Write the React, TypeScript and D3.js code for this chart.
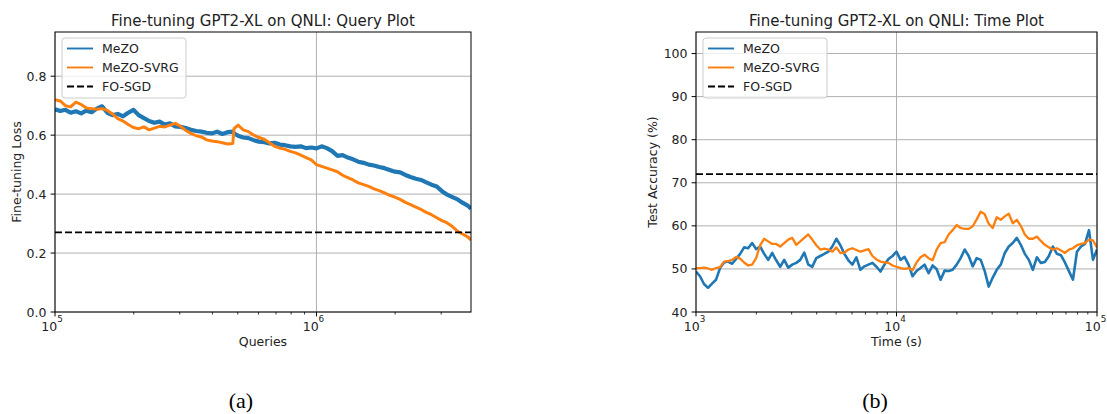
import React from 'react';
import * as d3 from 'd3';

// ---------- Data ----------
const queries = [
  1.000e5, 1.047e5, 1.096e5, 1.148e5, 1.202e5, 1.259e5, 1.318e5, 1.380e5, 1.445e5, 1.514e5,
  1.585e5, 1.660e5, 1.738e5, 1.820e5, 1.905e5, 1.995e5, 2.089e5, 2.188e5, 2.291e5, 2.399e5,
  2.512e5, 2.630e5, 2.754e5, 2.884e5, 3.020e5, 3.162e5, 3.311e5, 3.467e5, 3.631e5, 3.802e5,
  3.981e5, 4.169e5, 4.365e5, 4.571e5, 4.786e5, 4.840e5, 5.012e5, 5.248e5, 5.495e5, 5.754e5,
  6.026e5, 6.310e5, 6.607e5, 6.918e5, 7.244e5, 7.586e5, 7.943e5, 8.318e5, 8.710e5, 9.120e5,
  9.550e5, 1.000e6, 1.047e6, 1.096e6, 1.148e6, 1.202e6, 1.259e6, 1.318e6, 1.380e6, 1.445e6,
  1.514e6, 1.585e6, 1.660e6, 1.738e6, 1.820e6, 1.905e6, 1.995e6, 2.089e6, 2.188e6, 2.291e6,
  2.399e6, 2.512e6, 2.630e6, 2.754e6, 2.884e6, 3.020e6, 3.162e6, 3.311e6, 3.467e6, 3.631e6,
  3.802e6, 3.900e6,
];
const mezoLoss = [
  0.688, 0.682, 0.686, 0.676, 0.681, 0.674, 0.683, 0.678, 0.690, 0.698,
  0.676, 0.668, 0.672, 0.664, 0.676, 0.686, 0.668, 0.658, 0.648, 0.642,
  0.646, 0.636, 0.640, 0.630, 0.628, 0.624, 0.618, 0.614, 0.612, 0.608,
  0.606, 0.612, 0.604, 0.610, 0.612, 0.606, 0.598, 0.592, 0.590, 0.583,
  0.578, 0.576, 0.572, 0.574, 0.568, 0.566, 0.562, 0.560, 0.562, 0.556,
  0.558, 0.555, 0.562, 0.556, 0.546, 0.530, 0.532, 0.524, 0.518, 0.510,
  0.506, 0.500, 0.497, 0.492, 0.488, 0.482, 0.476, 0.474, 0.465, 0.458,
  0.452, 0.448, 0.440, 0.432, 0.426, 0.410, 0.398, 0.390, 0.382, 0.370,
  0.360, 0.350,
];
const svrgLoss = [
  0.720, 0.716, 0.700, 0.696, 0.712, 0.704, 0.692, 0.690, 0.688, 0.690,
  0.684, 0.672, 0.656, 0.648, 0.636, 0.626, 0.622, 0.628, 0.618, 0.624,
  0.630, 0.628, 0.634, 0.640, 0.630, 0.616, 0.606, 0.598, 0.594, 0.584,
  0.580, 0.578, 0.574, 0.570, 0.572, 0.622, 0.634, 0.618, 0.612, 0.600,
  0.592, 0.586, 0.574, 0.562, 0.556, 0.552, 0.545, 0.540, 0.532, 0.524,
  0.516, 0.500, 0.494, 0.488, 0.482, 0.476, 0.464, 0.456, 0.448, 0.438,
  0.432, 0.426, 0.418, 0.412, 0.404, 0.396, 0.390, 0.382, 0.372, 0.364,
  0.356, 0.348, 0.338, 0.330, 0.320, 0.310, 0.302, 0.290, 0.274, 0.264,
  0.254, 0.244,
];
const foSgdLoss = 0.27;

const timeSec = [
  1000, 1047, 1096, 1148, 1202, 1259, 1318, 1380, 1445, 1514,
  1585, 1660, 1738, 1820, 1905, 1995, 2089, 2188, 2291, 2399,
  2512, 2630, 2754, 2884, 3020, 3162, 3311, 3467, 3631, 3802,
  3981, 4169, 4365, 4571, 4786, 5012, 5248, 5495, 5754, 6026,
  6310, 6607, 6918, 7244, 7586, 7943, 8318, 8710, 9120, 9550,
  10000, 10471, 10965, 11482, 12023, 12589, 13183, 13804, 14454, 15136,
  15849, 16596, 17378, 18197, 19055, 19953, 20893, 21878, 22909, 23988,
  25119, 26303, 27542, 28840, 30200, 31623, 33113, 34674, 36308, 38019,
  39811, 41687, 43652, 45709, 47863, 50119, 52481, 54954, 57544, 60256,
  63096, 66069, 69183, 72444, 75858, 79433, 83176, 87096, 91201, 95499,
  100000,
];
const mezoAcc = [
  49.4, 48.3, 46.5, 45.6, 46.6, 47.5, 50.2, 51.5, 51.7, 51.2,
  52.3, 53.5, 55.0, 54.8, 56.0, 54.6, 55.2, 53.5, 52.1, 53.7,
  52.0, 50.5, 52.1, 50.3, 51.0, 51.4, 52.1, 53.8, 51.0, 50.5,
  52.5, 53.0, 53.5, 54.0, 55.2, 57.0, 55.5, 53.5, 52.0, 51.0,
  52.7, 49.8, 50.6, 51.0, 51.4, 50.5, 49.4, 51.0, 52.3, 53.0,
  54.0, 52.1, 52.8, 51.0, 48.3, 49.5, 50.2, 51.0, 49.0, 50.8,
  50.0, 47.5, 49.6, 49.5, 49.8, 51.0, 52.5, 54.5, 53.0, 50.6,
  52.5, 52.1, 49.5, 45.9, 48.0, 49.8, 51.0, 53.7, 55.2, 56.0,
  57.2, 55.6, 53.5, 52.1, 49.8, 52.7, 51.4, 51.6, 53.0, 55.2,
  53.5, 53.2, 51.5, 49.5, 47.5, 54.0, 55.2, 55.8, 59.0, 52.1,
  54.5,
];
const svrgAcc = [
  50.2, 50.2, 50.3, 50.1, 49.8, 50.2, 50.4, 51.7, 51.8, 52.1,
  52.8, 52.4, 51.5, 50.8, 51.0, 52.5, 55.5, 57.0, 56.4, 55.8,
  55.8, 55.2, 56.0, 56.8, 57.2, 55.6, 56.4, 57.2, 58.0, 56.8,
  55.5, 54.5, 54.7, 54.5, 54.0, 55.0, 53.7, 53.8, 54.5, 54.8,
  54.4, 54.0, 54.3, 54.6, 53.0, 52.2, 51.7, 51.5, 51.4, 50.8,
  50.5, 50.2, 50.0, 50.2, 49.7, 51.5, 52.7, 53.3, 52.5, 52.0,
  54.5, 56.0, 56.2, 58.0, 59.0, 60.2, 59.5, 59.3, 59.3, 59.9,
  61.5, 63.3, 62.7, 60.5, 59.5, 62.0, 61.4, 62.2, 62.8, 60.6,
  61.4, 60.0, 58.0, 57.0, 57.0, 57.5, 56.5, 55.6, 55.0, 54.5,
  54.8, 54.3, 53.7, 54.5, 54.8, 55.5, 55.8, 56.0, 56.8, 56.6,
  55.0,
];
const foSgdAcc = 72;

const legendLabels = ['MeZO', 'MeZO-SVRG', 'FO-SGD'];
const lossTicks = [0.0, 0.2, 0.4, 0.6, 0.8];
const accTicks = [40, 50, 60, 70, 80, 90, 100];

// ---------- Styles ----------
const BLUE = '#1f77b4';
const ORANGE = '#ff7f0e';
const GRID = '#b0b0b0';
const FONT = 'DejaVu Sans, sans-serif';
const FS = 12.5;

type Series = { x: number[]; y: number[]; color: string; width: number };

type PanelProps = {
  left: number; right: number; top: number; bottom: number;
  xDomain: [number, number]; yDomain: [number, number];
  yTicks: number[]; yFmt: (v: number) => string;
  title: string; xLabel: string; yLabel: string; yLabelX: number;
  series: Series[]; hline: number; id: string; xLabelShift: number;
};

function Panel(p: PanelProps) {
  const x = d3.scaleLog().domain(p.xDomain).range([p.left, p.right]);
  const y = d3.scaleLinear().domain(p.yDomain).range([p.bottom, p.top]);
  const lo = Math.floor(Math.log10(p.xDomain[0]));
  const hi = Math.ceil(Math.log10(p.xDomain[1]));
  const majors: number[] = [];
  const minors: number[] = [];
  for (let e = lo; e <= hi; e++) {
    const b = Math.pow(10, e);
    if (b >= p.xDomain[0] * 0.999 && b <= p.xDomain[1] * 1.001) majors.push(b);
    for (let m = 2; m <= 9; m++) {
      const v = m * b;
      if (v > p.xDomain[0] && v < p.xDomain[1]) minors.push(v);
    }
  }
  const line = (s: Series) =>
    d3.line<number>().x((_, i) => x(s.x[i])).y((v) => y(v))(s.y) || '';
  const cx = (p.left + p.right) / 2;
  const cy = (p.top + p.bottom) / 2;
  const lgX = p.left + 7;
  const lgY = p.top + 6;
  return (
    <g fontFamily={FONT}>
      <defs>
        <clipPath id={p.id}>
          <rect x={p.left} y={p.top} width={p.right - p.left} height={p.bottom - p.top} />
        </clipPath>
      </defs>
      {p.yTicks.map((t) => (
        <line key={'gy' + t} x1={p.left} x2={p.right} y1={y(t)} y2={y(t)} stroke={GRID} strokeWidth={1} />
      ))}
      {majors.map((t) => (
        <line key={'gx' + t} x1={x(t)} x2={x(t)} y1={p.top} y2={p.bottom} stroke={GRID} strokeWidth={1} />
      ))}
      <g clipPath={`url(#${p.id})`}>
        {p.series.map((s, i) => (
          <path key={i} d={line(s)} fill="none" stroke={s.color} strokeWidth={s.width} strokeLinejoin="round" />
        ))}
        <line x1={p.left} x2={p.right} y1={y(p.hline)} y2={y(p.hline)} stroke="#000" strokeWidth={1.9} strokeDasharray="7,3" />
      </g>
      <rect x={p.left} y={p.top} width={p.right - p.left} height={p.bottom - p.top} fill="none" stroke="#000" strokeWidth={1} />
      {p.yTicks.map((t) => (
        <g key={'ty' + t}>
          <line x1={p.left - 4.4} x2={p.left} y1={y(t)} y2={y(t)} stroke="#000" strokeWidth={1} />
          <text x={p.left - 8.5} y={y(t)} dy="0.36em" textAnchor="end" fontSize={FS} fill="#222">{p.yFmt(t)}</text>
        </g>
      ))}
      {majors.map((t) => (
        <g key={'tx' + t}>
          <line x1={x(t)} x2={x(t)} y1={p.bottom} y2={p.bottom + 4.4} stroke="#000" strokeWidth={1} />
          <text x={x(t) + p.xLabelShift} y={p.bottom + 18.5} textAnchor="middle" fontSize={FS} fill="#222">
            10<tspan dy={-8.5} fontSize={8.8}>{Math.round(Math.log10(t))}</tspan>
          </text>
        </g>
      ))}
      {minors.map((t) => (
        <line key={'mx' + t} x1={x(t)} x2={x(t)} y1={p.bottom} y2={p.bottom + 2.5} stroke="#000" strokeWidth={0.8} />
      ))}
      <text x={cx} y={26} textAnchor="middle" fontSize={15} fill="#222">{p.title}</text>
      <text x={cx} y={346} textAnchor="middle" fontSize={FS} fill="#222">{p.xLabel}</text>
      <text transform={`translate(${p.yLabelX},${cy}) rotate(-90)`} textAnchor="middle" fontSize={FS} fill="#222">{p.yLabel}</text>
      <rect x={lgX} y={lgY} width={124} height={60} rx={3} fill="#fff" fillOpacity={0.8} stroke="#ccc" strokeWidth={1} />
      {legendLabels.map((lab, i) => {
        const ly = lgY + 10.5 + i * 19;
        const color = i === 0 ? BLUE : i === 1 ? ORANGE : '#000';
        return (
          <g key={lab}>
            <line x1={lgX + 5} x2={lgX + 31} y1={ly} y2={ly} stroke={color} strokeWidth={1.9} strokeDasharray={i === 2 ? '7,3' : undefined} />
            <text x={lgX + 40} y={ly + 4.5} fontSize={FS} fill="#222">{lab}</text>
          </g>
        );
      })}
    </g>
  );
}

export default function App() {
  return (
    <svg width={1107} height={414} style={{ position: 'absolute', left: 0, top: 0, background: '#fff' }}>
      <rect width={1107} height={414} fill="#fff" />
      <Panel
        id="clipA" left={55} right={471} top={32} bottom={312}
        xDomain={[1e5, 3.9e6]} yDomain={[0, 0.95]}
        yTicks={lossTicks} yFmt={(v) => v.toFixed(1)}
        title="Fine-tuning GPT2-XL on QNLI: Query Plot" xLabel="Queries" yLabel="Fine-tuning Loss" yLabelX={21}
        series={[
          { x: queries, y: mezoLoss, color: BLUE, width: 4.2 },
          { x: queries, y: svrgLoss, color: ORANGE, width: 3.0 },
        ]}
        hline={foSgdLoss} xLabelShift={-3}
      />
      <Panel
        id="clipB" left={696} right={1097} top={32} bottom={312}
        xDomain={[1e3, 1e5]} yDomain={[40, 105]}
        yTicks={accTicks} yFmt={(v) => String(v)}
        title="Fine-tuning GPT2-XL on QNLI: Time Plot" xLabel="Time (s)" yLabel="Test Accuracy (%)" yLabelX={657}
        series={[
          { x: timeSec, y: mezoAcc, color: BLUE, width: 2.6 },
          { x: timeSec, y: svrgAcc, color: ORANGE, width: 2.3 },
        ]}
        hline={foSgdAcc} xLabelShift={-1.5}
      />
      <text x={241} y={408} textAnchor="middle" fontFamily="Liberation Serif, serif" fontSize={22} fill="#000">(a)</text>
      <text x={875} y={408} textAnchor="middle" fontFamily="Liberation Serif, serif" fontSize={22} fill="#000">(b)</text>
    </svg>
  );
}
